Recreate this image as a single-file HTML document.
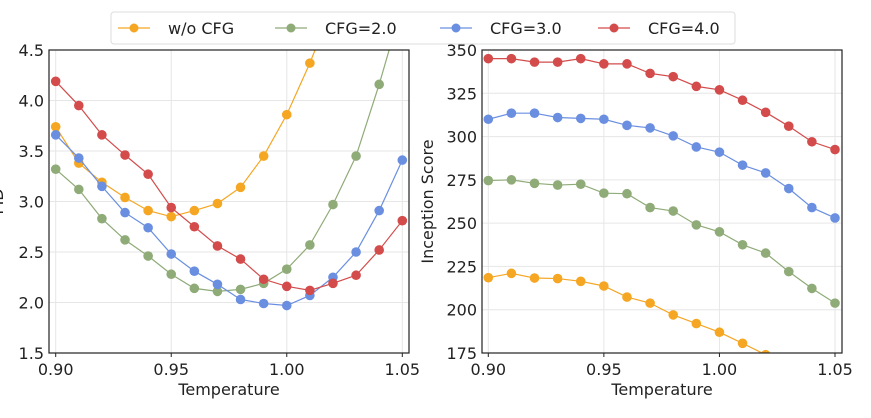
<!DOCTYPE html>
<html><head><meta charset="utf-8">
<style>
body{margin:0;background:#fff;width:871px;height:418px;overflow:hidden;font-family:"DejaVu Sans","Liberation Sans",sans-serif;}
svg{position:absolute;left:0;top:0}
</style></head><body>
<svg id="chart" width="871" height="418" font-family="DejaVu Sans, Liberation Sans, sans-serif"></svg>
<script>
const temps=[0.90,0.91,0.92,0.93,0.94,0.95,0.96,0.97,0.98,0.99,1.00,1.01,1.02,1.03,1.04,1.05];
const seriesNames=["w/o CFG","CFG=2.0","CFG=3.0","CFG=4.0"];
const colors=["#f5a623","#8fab78","#6a8fe0","#d34b4b"];
const fidNoCfg=[3.74,3.38,3.19,3.04,2.91,2.85,2.91,2.98,3.14,3.45,3.86,4.37,4.95,5.6,6.3,7.0];
const fidCfg2=[3.32,3.12,2.83,2.62,2.46,2.28,2.14,2.11,2.13,2.19,2.33,2.57,2.97,3.45,4.16,4.95];
const fidCfg3=[3.66,3.43,3.15,2.89,2.74,2.48,2.31,2.18,2.03,1.99,1.97,2.07,2.25,2.50,2.91,3.41];
const fidCfg4=[4.19,3.95,3.66,3.46,3.27,2.94,2.75,2.56,2.43,2.23,2.16,2.12,2.19,2.27,2.52,2.81];
const isNoCfg=[218.5,221,218.3,218,216.4,213.7,207.3,203.8,197,192,187,180.6,174,167,160,152];
const isCfg2=[274.6,275,273,272,272.5,267.3,267,259,257,249,245,237.5,232.7,222,212.3,203.8];
const isCfg3=[310,313.5,313.5,311,310.5,310,306.5,305,300.4,294,291,283.5,279,270,259,253];
const isCfg4=[345,345,343,343,345,342,342,336.5,334.6,329,327,321,314,306,297,292.5];
const xTicks=["0.90","0.95","1.00","1.05"];
const fidTicks=["1.5","2.0","2.5","3.0","3.5","4.0","4.5"];
const isTicks=["175","200","225","250","275","300","325","350"];

const svg=document.getElementById('chart');
const NS='http://www.w3.org/2000/svg';
function mk(tag,attrs,parent){const e=document.createElementNS(NS,tag);for(const k in attrs)e.setAttribute(k,attrs[k]);(parent||svg).appendChild(e);return e;}

function panel(cfg){
  const {name,bx0,bx1,by0,by1,xa,xb,ya,yb,yTicks,series,ylabel,ylx}=cfg;
  const g=mk('g',{});
  
  
  const X=v=>xa[1]+(v-xa[0])/(xb[0]-xa[0])*(xb[1]-xa[1]);
  const Y=v=>ya[1]+(v-ya[0])/(yb[0]-ya[0])*(yb[1]-ya[1]);
  const clipId=name+'-clip';
  const cp=mk('clipPath',{id:clipId},g);mk('rect',{x:bx0,y:by0,width:bx1-bx0,height:by1-by0},cp);
  xTicks.forEach(t=>{const x=X(+t);
    const l=mk('line',{x1:x,x2:x,y1:by0,y2:by1,stroke:'#e6e6e6','stroke-width':1},g);
    
    mk('line',{x1:x,x2:x,y1:by1,y2:by1+4,stroke:'#222'},g);
    const tx=mk('text',{x:x,y:by1+22,'text-anchor':'middle','font-size':16,fill:'#222'},g);tx.textContent=t;
    });
  yTicks.forEach(t=>{const y=Y(+t);
    const l=mk('line',{x1:bx0,x2:bx1,y1:y,y2:y,stroke:'#e6e6e6','stroke-width':1},g);
    
    const tx=mk('text',{x:bx0-5,y:y+6,'text-anchor':'end','font-size':16,fill:'#222'},g);tx.textContent=t;
    });
  series.forEach((s,i)=>{
    const sg=mk('g',{'clip-path':'url(#'+clipId+')'},g);
    
    
    mk('polyline',{points:s.map((v,j)=>X(temps[j])+','+Y(v)).join(' '),fill:'none',stroke:colors[i],'stroke-width':1.2},sg);
    s.forEach((v,j)=>{const c=mk('circle',{cx:X(temps[j]),cy:Y(v),r:4.8,fill:colors[i]},sg);
      
      });
  });
  const fr=mk('rect',{x:bx0,y:by0,width:bx1-bx0,height:by1-by0,fill:'none',stroke:'#222','stroke-width':1.2},g);
  
  const xl=mk('text',{x:(bx0+bx1)/2,y:by1+42,'text-anchor':'middle','font-size':16,fill:'#222'},g);xl.textContent='Temperature';
  
  const yl=mk('text',{x:ylx,y:(by0+by1)/2,'text-anchor':'middle','font-size':16,fill:'#222',transform:`rotate(-90 ${ylx} ${(by0+by1)/2})`},g);yl.textContent=ylabel;
  
}
panel({name:'fid-panel',bx0:49,bx1:409,by0:50,by1:353,xa:[0.90,55.7],xb:[1.05,402.3],ya:[4.5,50],yb:[1.5,353],yTicks:fidTicks,series:[fidNoCfg,fidCfg2,fidCfg3,fidCfg4],ylabel:'FID',ylx:3});
panel({name:'inception-score-panel',bx0:482,bx1:842,by0:50,by1:353,xa:[0.90,488.3],xb:[1.05,835],ya:[350,50],yb:[175,353],yTicks:isTicks,series:[isNoCfg,isCfg2,isCfg3,isCfg4],ylabel:'Inception Score',ylx:433});

// legend
const lg=mk('g',{});


mk('rect',{x:111,y:12,width:624,height:32,rx:3,fill:'#fff',stroke:'#ddd'},lg);
const lx=[118,275,440,598];
seriesNames.forEach((n,i)=>{
  const e=mk('g',{},lg);
  
  
  mk('line',{x1:lx[i],x2:lx[i]+32,y1:28,y2:28,stroke:colors[i],'stroke-width':1.2},e);
  mk('circle',{cx:lx[i]+16,cy:28,r:4.5,fill:colors[i]},e);
  const t=mk('text',{x:lx[i]+50,y:34,'font-size':16,fill:'#222'},e);t.textContent=n;
});
</script>
</body></html>
